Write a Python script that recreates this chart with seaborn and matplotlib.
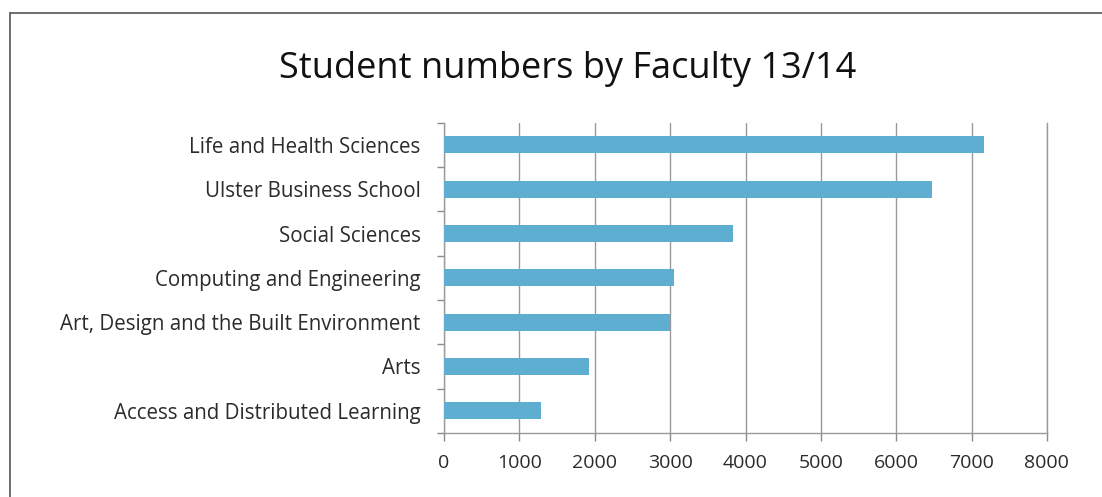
import matplotlib
matplotlib.use("Agg")
import matplotlib.pyplot as plt
from matplotlib.lines import Line2D
import seaborn as sns
import pandas as pd

faculties = [
    "Life and Health Sciences",
    "Ulster Business School",
    "Social Sciences",
    "Computing and Engineering",
    "Art, Design and the Built Environment",
    "Arts",
    "Access and Distributed Learning",
]
students = [7170, 6480, 3830, 3050, 3000, 1920, 1290]
x_ticks = [0, 1000, 2000, 3000, 4000, 5000, 6000, 7000, 8000]

df = pd.DataFrame({"Faculty": faculties, "Students": students})

sns.set_theme(style="white")
plt.rcParams["font.family"] = ["Open Sans", "DejaVu Sans"]

fig = plt.figure(figsize=(11.02, 4.97), dpi=100)
ax = fig.add_axes([0.403, 0.129, 0.547, 0.624])

sns.barplot(data=df, y="Faculty", x="Students", orient="h", order=faculties,
            color="#5eaed2", saturation=1, width=0.38, linewidth=0, ax=ax, zorder=3)

ax.set_xlim(0, 8000)
ax.set_xticks(x_ticks)
ax.set_xticklabels([str(v) for v in x_ticks], fontsize=14, color="#2b2b2b")
ax.grid(axis="x", color="#9a9a9a", linewidth=1, zorder=0)
ax.set_axisbelow(True)
ax.set_xlabel("")
ax.set_ylabel("")

# category boundary ticks on the vertical axis
ax.set_yticks([i - 0.5 for i in range(len(faculties) + 1)], minor=True)
ax.tick_params(axis="y", which="minor", length=5, width=1, color="#8a8a8a", left=True)
ax.tick_params(axis="y", which="major", length=0, pad=17, labelsize=14.8, labelcolor="#2b2b2b")
ax.tick_params(axis="x", which="major", length=6, width=1, color="#8a8a8a", bottom=True, pad=9)

for side in ["left", "bottom", "right"]:
    ax.spines[side].set_color("#9a9a9a")
    ax.spines[side].set_linewidth(1)
ax.spines["top"].set_visible(False)

fig.text(0.515, 0.862, "Student numbers by Faculty 13/14", ha="center", va="center",
         fontsize=26, color="#111111")

# outer frame lines along the top and left edges
fig.add_artist(Line2D([10 / 1102, 1.0], [1 - 13 / 497, 1 - 13 / 497],
                      transform=fig.transFigure, color="#555555", linewidth=1.2))
fig.add_artist(Line2D([10 / 1102, 10 / 1102], [0.0, 1 - 13 / 497],
                      transform=fig.transFigure, color="#555555", linewidth=1.2))

fig.savefig("out.png", dpi=100)
